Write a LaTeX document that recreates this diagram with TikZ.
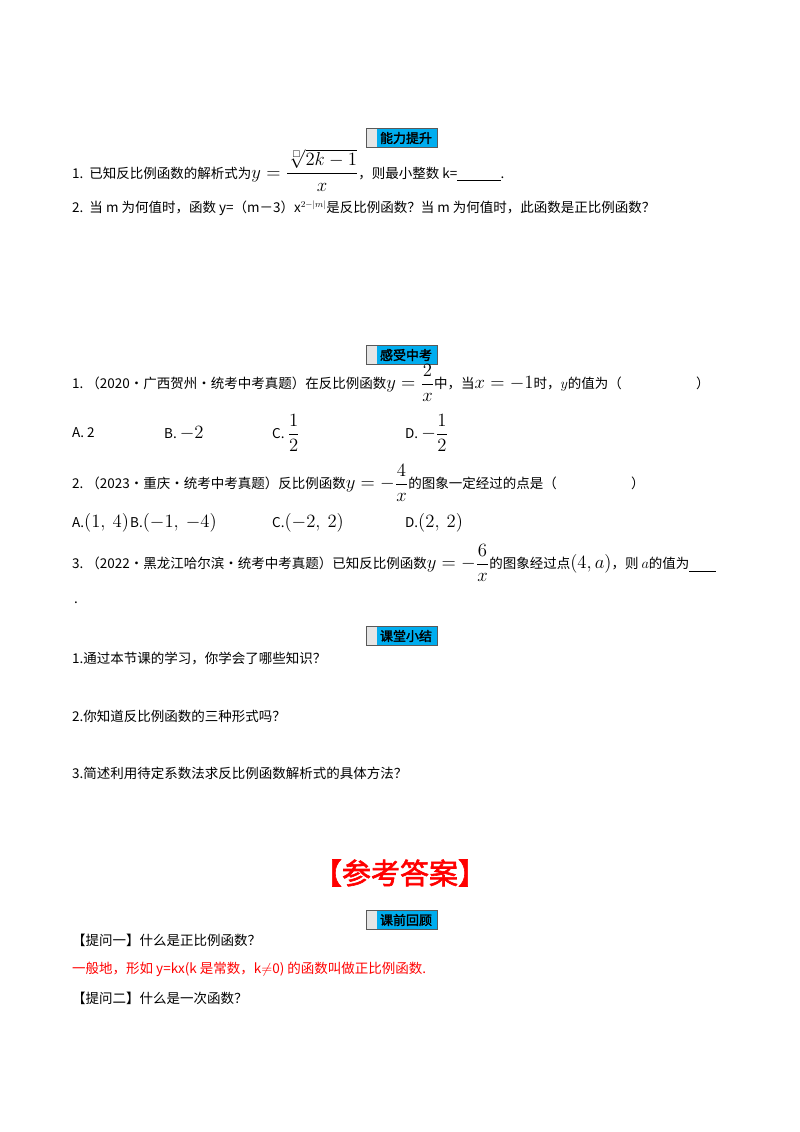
\documentclass[tikz,border=0pt]{standalone}
\usepackage{amsmath,amssymb}
\usepackage{fontspec}
\setmainfont{Noto Sans CJK SC}
\newfontfamily\cjkb[FakeBold=2]{Noto Sans CJK SC}
\newcommand{\mm}[1]{\scalebox{1.3}{$\displaystyle #1$}}
\begin{document}
\begin{tikzpicture}[x=1pt,y=-1pt,
  tx/.style={anchor=west,inner sep=0pt,font=\fontsize{13.5}{15}\selectfont},
  hdr/.style={inner sep=0pt}]
\useasboundingbox (0,0) rectangle (800,1132);
\fill[white] (0,0) rectangle (800,1132);
\foreach \yy/\t/\nm in {128/能力提升/h1,345/感受中考/h2,626/课堂小结/h3,910/课前回顾/h4}{
  \fill[gray!20] (366,\yy) rectangle (377,\yy+19);
  \fill[cyan] (377,\yy) rectangle (437,\yy+19);
  \draw[gray!70!black,line width=0.8pt] (366,\yy) rectangle (437,\yy+19);
  \node[hdr,font=\cjkb\fontsize{13}{14}\selectfont] (\nm) at (406,\yy+10) {\t};
}
\node[tx] (a1) at (72,170) {1.\ \ 已知反比例函数的解析式为\mm{y=\frac{\sqrt[\scriptscriptstyle\square]{2k-1}}{x}}，则最小整数 k=\underline{\hspace{3.2em}}.};
\node[tx] (a2) at (72,208) {2.\ \ 当 m 为何值时，函数 y=（m－3）x$^{2-|m|}$是反比例函数？当 m 为何值时，此函数是正比例函数？};
\node[tx] (b1) at (72,383) {1.\ （2020·广西贺州·统考中考真题）在反比例函数\mm{y=\frac{2}{x}}中，当\mm{x=-1}时，$y$的值为（\hspace{5.5em}）};
\node[tx] (b1a) at (72,433) {A.\ 2};
\node[tx] (b1b) at (164,433) {B.\ \mm{-2}};
\node[tx] (b1c) at (272,433) {C.\ \mm{\frac{1}{2}}};
\node[tx] (b1d) at (405,433) {D.\ \mm{-\frac{1}{2}}};
\node[tx] (b2) at (72,483) {2.\ （2023·重庆·统考中考真题）反比例函数\mm{y=-\frac{4}{x}}的图象一定经过的点是（\hspace{5.5em}）};
\node[tx] (b2a) at (72,523) {A.\mm{\left(1,\ 4\right)}};
\node[tx] (b2b) at (130,523) {B.\mm{\left(-1,\ -4\right)}};
\node[tx] (b2c) at (272,523) {C.\mm{\left(-2,\ 2\right)}};
\node[tx] (b2d) at (405,523) {D.\mm{\left(2,\ 2\right)}};
\node[tx] (b3) at (72,563) {3.\ （2022·黑龙江哈尔滨·统考中考真题）已知反比例函数\mm{y=-\frac{6}{x}}的图象经过点\mm{\left(4,a\right)}，则 $a$的值为\underline{\hspace{2em}}};
\node[tx] (b3p) at (74,603) {.};
\node[tx] (c1) at (72,658) {1.通过本节课的学习，你学会了哪些知识？};
\node[tx] (c2) at (72,716) {2.你知道反比例函数的三种形式吗？};
\node[tx] (c3) at (72,773) {3.简述利用待定系数法求反比例函数解析式的具体方法？};
\node[inner sep=0pt,text=red,font=\cjkb\fontsize{29}{32}\selectfont] (ans) at (400,873) {【参考答案】};
\node[tx] (d1) at (72,940) {【提问一】什么是正比例函数？};
\node[tx,text=red] (d2) at (72,969) {一般地，形如 y=kx(k 是常数，k$\neq$0) 的函数叫做正比例函数.};
\node[tx] (d3) at (72,998) {【提问二】什么是一次函数？};
\end{tikzpicture}
\end{document}
